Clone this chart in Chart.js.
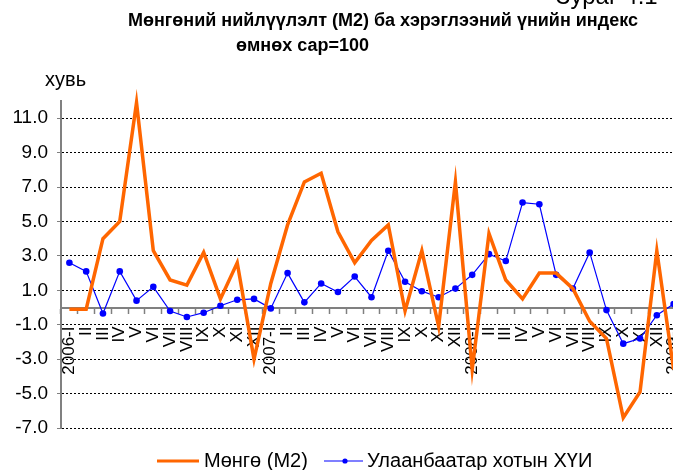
<!DOCTYPE html>
<html lang="mn">
<head>
<meta charset="utf-8">
<title>Мөнгөний нийлүүлэлт ба ХҮИ</title>
<script src="https://cdn.jsdelivr.net/npm/chart.js@4"></script>
<style>
    html, body { margin: 0; padding: 0; background: #fff; overflow: hidden; }
    #wrap { position: relative; width: 686px; height: 470px; }
</style>
</head>
<body>
<div id="wrap"><canvas id="m2Chart"></canvas></div>
<script>
// Сарууд (2006-I ... 2009-I)
const months = [
    "2006-I", "II", "III", "IV", "V", "VI", "VII", "VIII", "IX", "X", "XI", "XII",
    "2007-I", "II", "III", "IV", "V", "VI", "VII", "VIII", "IX", "X", "XI", "XII",
    "2008-I", "II", "III", "IV", "V", "VI", "VII", "VIII", "IX", "X", "XI", "XII",
    "2009-I"
];

// Мөнгө (М2), өмнөх сартай харьцуулахад, хувь
const m2Values = [
    -0.1, -0.1, 4.0, 5.0, 11.9, 3.3, 1.6, 1.3, 3.2, 0.5, 2.6, -3.0,
    1.4, 4.8, 7.3, 7.8, 4.4, 2.6, 3.9, 4.8, -0.2, 3.3, -1.1, 7.3,
    -3.6, 4.3, 1.6, 0.5, 2.0, 2.0, 1.1, -0.8, -1.8, -6.4, -4.9, 3.3,
    -3.6
];

// Улаанбаатар хотын ХҮИ, хувь
const cpiValues = [
    2.6, 2.1, -0.35, 2.1, 0.4, 1.2, -0.2, -0.55, -0.3, 0.1, 0.45, 0.5,
    -0.05, 2.0, 0.3, 1.4, 0.9, 1.8, 0.6, 3.3, 1.5, 0.95, 0.6, 1.1,
    1.9, 3.1, 2.7, 6.1, 6.0, 1.9, 1.1, 3.2, -0.15, -2.1, -1.8, -0.45,
    0.2
];

const yTicks = [-7, -5, -3, -1, 1, 3, 5, 7, 9, 11];

const seriesNames = ["Мөнгө (М2)", "Улаанбаатар хотын ХҮИ"];
const titleLines = ["Мөнгөний нийлүүлэлт (М2) ба хэрэглээний үнийн индекс", "өмнөх сар=100"];
const unitLabel = "хувь";
const figureLabel = "Зураг 4.1";

const FONT = "'Liberation Sans', Arial, sans-serif";

// Гарчиг, нэгж, тайлбар зурах
const decorPlugin = {
    id: "decor",
    afterDraw(chart) {
        const ctx = chart.ctx;
        const ds = chart.data.datasets;
        ctx.save();
        ctx.fillStyle = "#000";
        ctx.textBaseline = "alphabetic";

        ctx.font = "24px " + FONT;
        ctx.fillText(figureLabel, 556, 4);

        ctx.font = "bold 18px " + FONT;
        ctx.fillText(titleLines[0], 128, 26);
        ctx.fillText(titleLines[1], 236, 51);

        ctx.font = "20px " + FONT;
        ctx.fillText(unitLabel, 45, 86);

        // Тайлбар (legend)
        const ly = 461;
        ctx.font = "20px " + FONT;
        ctx.textBaseline = "middle";

        ctx.strokeStyle = ds[0].borderColor;
        ctx.lineWidth = 3;
        ctx.beginPath();
        ctx.moveTo(157, ly);
        ctx.lineTo(199, ly);
        ctx.stroke();
        ctx.fillText(ds[0].label, 204, ly);

        ctx.strokeStyle = ds[1].borderColor;
        ctx.lineWidth = 1.2;
        ctx.beginPath();
        ctx.moveTo(324, ly);
        ctx.lineTo(363, ly);
        ctx.stroke();
        ctx.fillStyle = ds[1].borderColor;
        ctx.beginPath();
        ctx.arc(345, ly, 2.6, 0, Math.PI * 2);
        ctx.fill();
        ctx.fillStyle = "#000";
        ctx.fillText(ds[1].label, 367, ly);

        ctx.restore();
    }
};

new Chart(document.getElementById("m2Chart"), {
    type: "line",
    data: {
        labels: months,
        datasets: [
            {
                label: seriesNames[0],
                data: m2Values,
                borderColor: "#FF6600",
                borderWidth: 3.5,
                pointRadius: 0,
                tension: 0,
                clip: false
            },
            {
                label: seriesNames[1],
                data: cpiValues,
                borderColor: "#0000FF",
                backgroundColor: "#0000FF",
                borderWidth: 1.2,
                pointRadius: 3.3,
                pointBackgroundColor: "#0000FF",
                pointBorderWidth: 0,
                tension: 0
            }
        ]
    },
    options: {
        responsive: true,
        maintainAspectRatio: false,
        animation: false,
        layout: { padding: { top: 101, bottom: 42, left: 0, right: 0 } },
        plugins: {
            legend: { display: false },
            title: { display: false },
            tooltip: { enabled: false }
        },
        scales: {
            x: {
                position: { y: 0 },
                offset: true,
                grid: {
                    drawOnChartArea: false,
                    drawTicks: true,
                    tickLength: 5,
                    tickColor: "#808080",
                    tickWidth: 1.5,
                    offset: true
                },
                border: { display: true, color: "#808080", width: 2 },
                ticks: {
                    autoSkip: false,
                    minRotation: 90,
                    maxRotation: 90,
                    padding: 14,
                    color: "#000",
                    font: { family: FONT, size: 17 }
                },
                afterFit: s => {
                    s.height = 0;
                    s.paddingLeft = 0;
                    s.paddingRight = 0;
                }
            },
            y: {
                min: -7,
                max: 12,
                afterBuildTicks: s => { s.ticks = yTicks.map(v => ({ value: v })); },
                afterFit: s => { s.width = 61; },
                grid: {
                    color: "#000",
                    lineWidth: 1,
                    tickLength: 4,
                    tickColor: "#808080",
                    tickBorderDash: []
                },
                border: { display: true, color: "#808080", width: 2, dash: [2, 2] },
                ticks: {
                    padding: 9,
                    color: "#000",
                    font: { family: FONT, size: 19 },
                    callback: v => v.toFixed(1)
                }
            }
        }
    },
    plugins: [decorPlugin]
});
</script>
</body>
</html>
